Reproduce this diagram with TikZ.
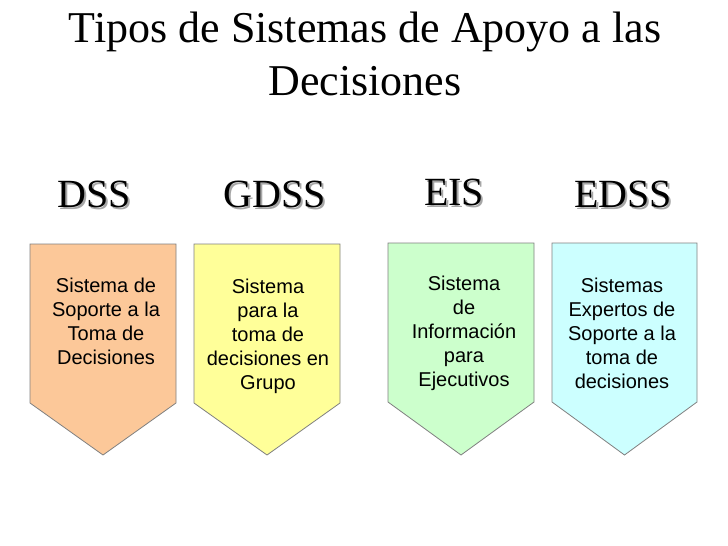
\documentclass[tikz,border=0pt]{standalone}
\usepackage{fontspec}
\setmainfont{Liberation Serif}
\newfontfamily\arialfont{Liberation Sans}
\newcommand{\shadowtext}[1]{\rlap{\hspace{2pt}\raisebox{-2pt}{\textcolor{black!35}{#1}}}#1}
\begin{document}
\begin{tikzpicture}[x=1pt,y=-1pt,
  titletxt/.style={anchor=base, inner sep=0, font=\fontsize{44}{53}\selectfont},
  headtxt/.style={anchor=base, inner sep=0, font=\fontsize{40}{48}\selectfont},
  boxtxt/.style={anchor=base, inner sep=0, font=\arialfont\fontsize{20}{24}\selectfont},
  chevron/.style={draw=black!50, line width=0.8pt, line join=miter}]
\useasboundingbox (0,0) rectangle (728,546);
\fill[white] (0,0) rectangle (728,546);
% title
\node[titletxt] (t1) at (365,42) {Tipos de Sistemas de Apoyo a las};
\node[titletxt] (t2) at (365,95) {Decisiones};
% headings with shadow
\foreach \x/\y/\s/\n in {94/207/DSS/h1, 275/207/GDSS/h2, 454/205/EIS/h3, 623/207/EDSS/h4}{
  \node[headtxt] (\n) at (\x,\y) {\shadowtext{\s}};
}
% chevron shapes
\path[chevron, fill={rgb,255:red,252;green,200;blue,153}] (30,244) -- (176,244) -- (176,403) -- (103,455) -- (30,403) -- cycle;
\path[chevron, fill={rgb,255:red,255;green,255;blue,153}] (194,244) -- (340,244) -- (340,403) -- (267,455) -- (194,403) -- cycle;
\path[chevron, fill={rgb,255:red,204;green,255;blue,204}] (388,243) -- (534,243) -- (534,402) -- (461,455) -- (388,402) -- cycle;
\path[chevron, fill={rgb,255:red,204;green,255;blue,255}] (552,243) -- (697,243) -- (697,402) -- (624.5,455) -- (552,402) -- cycle;
% box texts
\foreach \t [count=\i] in {Sistema de, Soporte a la, Toma de, Decisiones}
  \node[boxtxt] (a\i) at (106,268+24*\i) {\t};
\foreach \t [count=\i] in {Sistema, para la, toma de, decisiones en, Grupo}
  \node[boxtxt] (b\i) at (268,269+24*\i) {\t};
\foreach \t [count=\i] in {Sistema, de, Información, para, Ejecutivos}
  \node[boxtxt] (c\i) at (464,266+24*\i) {\t};
\foreach \t [count=\i] in {Sistemas, Expertos de, Soporte a la, toma de, decisiones}
  \node[boxtxt] (d\i) at (622,268+24*\i) {\t};
\end{tikzpicture}
\end{document}
